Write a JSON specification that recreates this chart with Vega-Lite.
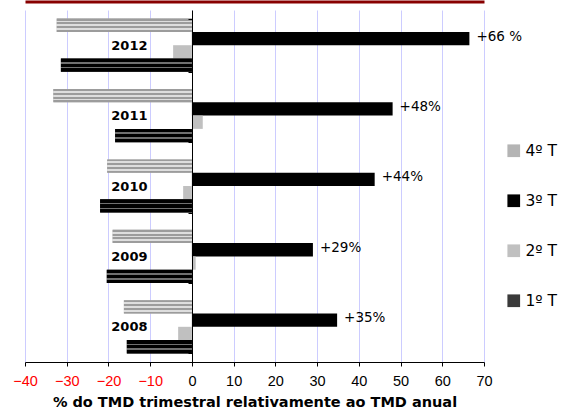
{
  "$schema": "https://vega.github.io/schema/vega-lite/v6.json",
  "width": 459,
  "height": 352,
  "autosize": {"type": "none"},
  "padding": {"left": 25, "top": 10, "right": 84, "bottom": 54},
  "background": "white",
  "config": {"view": {"stroke": null}, "font": "Liberation Sans"},
  "data": {
    "values": [
      {"year": "2012", "q": "4º T", "value": -32.4, "label": ""},
      {"year": "2012", "q": "3º T", "value": 66.5, "label": "+66 %"},
      {"year": "2012", "q": "2º T", "value": -4.5, "label": ""},
      {"year": "2012", "q": "1º T", "value": -31.4, "label": ""},
      {"year": "2011", "q": "4º T", "value": -33.2, "label": ""},
      {"year": "2011", "q": "3º T", "value": 48.1, "label": "+48%"},
      {"year": "2011", "q": "2º T", "value": 2.6, "label": ""},
      {"year": "2011", "q": "1º T", "value": -18.4, "label": ""},
      {"year": "2010", "q": "4º T", "value": -20.3, "label": ""},
      {"year": "2010", "q": "3º T", "value": 43.8, "label": "+44%"},
      {"year": "2010", "q": "2º T", "value": -2.1, "label": ""},
      {"year": "2010", "q": "1º T", "value": -22.0, "label": ""},
      {"year": "2009", "q": "4º T", "value": -19.0, "label": ""},
      {"year": "2009", "q": "3º T", "value": 29.0, "label": "+29%"},
      {"year": "2009", "q": "2º T", "value": 0.9, "label": ""},
      {"year": "2009", "q": "1º T", "value": -20.4, "label": ""},
      {"year": "2008", "q": "4º T", "value": -16.3, "label": ""},
      {"year": "2008", "q": "3º T", "value": 34.8, "label": "+35%"},
      {"year": "2008", "q": "2º T", "value": -3.3, "label": ""},
      {"year": "2008", "q": "1º T", "value": -15.6, "label": ""}
    ]
  },
  "layer": [
    {
      "mark": {"type": "bar", "strokeWidth": 0},
      "encoding": {
        "y": {
          "field": "year", "type": "nominal",
          "sort": ["2012", "2011", "2010", "2009", "2008"],
          "scale": {"paddingInner": 0.245, "paddingOuter": 0.1225},
          "axis": {
            "title": null, "offset": -167, "domainColor": "black", "domainWidth": 1,
            "tickColor": "black", "tickSize": 4, "tickBand": "extent",
            "labelFont": "DejaVu Sans", "labelFontWeight": "bold", "labelFontSize": 13,
            "labelColor": "black", "labelPadding": 41, "zindex": 1
          }
        },
        "yOffset": {
          "field": "q", "type": "nominal",
          "sort": ["4º T", "3º T", "2º T", "1º T"],
          "scale": {"paddingInner": 0, "paddingOuter": 0}
        },
        "x": {
          "field": "value", "type": "quantitative",
          "scale": {"domain": [-40, 70], "nice": false, "zero": false},
          "axis": {
            "title": "% do TMD trimestral relativamente ao TMD anual",
            "titleFont": "DejaVu Sans", "titleFontWeight": "bold", "titleFontSize": 14.5,
            "titleColor": "black", "titlePadding": 8,
            "values": [-40, -30, -20, -10, 0, 10, 20, 30, 40, 50, 60, 70],
            "grid": true, "gridColor": "#ccccff", "gridOpacity": 1,
            "domainColor": "black", "tickColor": "black", "tickSize": 4,
            "labelFont": "Liberation Sans", "labelFontSize": 14.5, "labelFlush": false,
            "labelPadding": 8,
            "labelColor": {"expr": "datum.value < 0 ? '#ff0000' : '#000000'"}
          }
        },
        "fill": {
          "field": "q", "type": "nominal",
          "scale": {
            "domain": ["4º T", "3º T", "2º T", "1º T"],
            "range": ["#b4b4b4", "#000000", "#c0c0c0", "#3a3a3a"]
          },
          "legend": {
            "title": null, "orient": "none", "legendX": 481, "legendY": 133,
            "symbolType": "square", "symbolSize": 161, "symbolStrokeWidth": 0,
            "labelFont": "DejaVu Sans", "labelFontSize": 15.5, "labelColor": "black",
            "labelOffset": 4, "rowPadding": 33, "padding": 0
          }
        }
      }
    },
    {
      "transform": [{"filter": "datum.q === '4º T'"}],
      "mark": {"type": "bar", "strokeWidth": 0, "fill": {"gradient": "linear", "x1": 0, "y1": 0, "x2": 0, "y2": 1, "stops": [
                {"offset": 0, "color": "#9c9c9c"}, {"offset": 0.143, "color": "#9c9c9c"},
                {"offset": 0.143, "color": "#dedede"}, {"offset": 0.286, "color": "#dedede"},
                {"offset": 0.286, "color": "#9c9c9c"}, {"offset": 0.429, "color": "#9c9c9c"},
                {"offset": 0.429, "color": "#dedede"}, {"offset": 0.571, "color": "#dedede"},
                {"offset": 0.571, "color": "#9c9c9c"}, {"offset": 0.714, "color": "#9c9c9c"},
                {"offset": 0.714, "color": "#dedede"}, {"offset": 0.857, "color": "#dedede"},
                {"offset": 0.857, "color": "#9c9c9c"}, {"offset": 1, "color": "#9c9c9c"}]}},
      "encoding": {
        "y": {"field": "year", "type": "nominal", "sort": ["2012", "2011", "2010", "2009", "2008"]},
        "yOffset": {"field": "q", "type": "nominal", "sort": ["4º T", "3º T", "2º T", "1º T"]},
        "x": {"field": "value", "type": "quantitative", "axis": null}
      }
    },
    {
      "transform": [{"filter": "datum.q === '1º T'"}],
      "mark": {"type": "bar", "strokeWidth": 0, "fill": {"gradient": "linear", "x1": 0, "y1": 0, "x2": 0, "y2": 1, "stops": [
                {"offset": 0, "color": "#000000"}, {"offset": 0.26, "color": "#000000"},
                {"offset": 0.26, "color": "#707070"}, {"offset": 0.38, "color": "#707070"},
                {"offset": 0.38, "color": "#000000"}, {"offset": 0.62, "color": "#000000"},
                {"offset": 0.62, "color": "#707070"}, {"offset": 0.74, "color": "#707070"},
                {"offset": 0.74, "color": "#000000"}, {"offset": 1, "color": "#000000"}]}},
      "encoding": {
        "y": {"field": "year", "type": "nominal", "sort": ["2012", "2011", "2010", "2009", "2008"]},
        "yOffset": {"field": "q", "type": "nominal", "sort": ["4º T", "3º T", "2º T", "1º T"]},
        "x": {"field": "value", "type": "quantitative", "axis": null}
      }
    },
    {
      "transform": [{"filter": "datum.q === '3º T'"}],
      "mark": {"type": "text", "align": "left", "baseline": "middle", "dx": 7, "dy": -2, "fontSize": 13.5, "font": "DejaVu Sans", "color": "black"},
      "encoding": {
        "y": {"field": "year", "type": "nominal", "sort": ["2012", "2011", "2010", "2009", "2008"]},
        "yOffset": {"field": "q", "type": "nominal", "sort": ["4º T", "3º T", "2º T", "1º T"]},
        "x": {
          "field": "value", "type": "quantitative",
          "axis": {"orient": "top", "offset": 8.5, "domainColor": "#880000", "domainWidth": 3,
                   "ticks": false, "labels": false, "grid": false, "title": null}
        },
        "text": {"field": "label"}
      }
    }
  ],
  "resolve": {"axis": {"x": "independent"}}
}
